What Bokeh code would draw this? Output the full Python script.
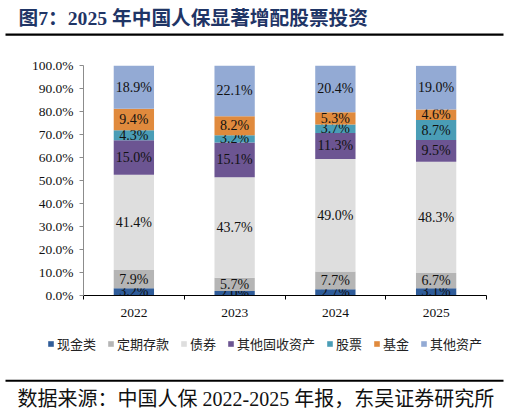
from bokeh.plotting import figure
from bokeh.models import (ColumnDataSource, FixedTicker, Legend, LegendItem, Range1d)
from bokeh.layouts import column
from bokeh.core.properties import value
from bokeh.embed import file_html
from bokeh.resources import INLINE

years = ["2022", "2023", "2024", "2025"]
series_names = ["现金类", "定期存款", "债券", "其他固收资产", "股票", "基金", "其他资产"]
cash = [3.2, 2.0, 2.7, 3.1]
deposits = [7.9, 5.7, 7.7, 6.7]
bonds = [41.4, 43.7, 49.0, 48.3]
other_fixed = [15.0, 15.1, 11.3, 9.5]
stocks = [4.3, 3.2, 3.7, 8.7]
funds = [9.4, 8.2, 5.3, 4.6]
other_assets = [18.9, 22.1, 20.4, 19.0]
y_ticks = [0, 10, 20, 30, 40, 50, 60, 70, 80, 90, 100]
title_text = "图7：2025 年中国人保显著增配股票投资"
source_text = "数据来源：中国人保 2022-2025 年报，东吴证券研究所"

series = [cash, deposits, bonds, other_fixed, stocks, funds, other_assets]
colors = ["#2F5C99", "#B5B5B5", "#DEDEDE", "#6C5592", "#4A9DB6", "#E08A3D", "#93AAD4"]

SERIF = "Liberation Serif, Noto Sans CJK SC"
W = 509
HH, MH, FH = 42, 278, 93
NAN = float("nan")


def blank(height):
    f = figure(width=W, height=height, output_backend="svg", toolbar_location=None,
               x_range=Range1d(0, W), y_range=Range1d(height, 0),
               x_axis_location=None, y_axis_location=None, frame_align=False,
               min_border=0, min_border_left=0, min_border_right=0,
               min_border_top=0, min_border_bottom=0)
    f.outline_line_color = None
    f.grid.grid_line_color = None
    f.border_fill_color = "white"
    f.background_fill_color = "white"
    return f


# ---------- header ----------
head = blank(HH)
head.text(x=[18], y=[17], text=[title_text], text_font=value(SERIF),
          text_font_size="19.7px", text_font_style="bold", text_color="#1F3566",
          text_baseline="middle", text_align="left")
head.quad(left=[5], right=[503], top=[33], bottom=[35.2], fill_color="black",
          line_color=None)

# ---------- main chart ----------
p = figure(width=W, height=MH, output_backend="svg", toolbar_location=None,
           x_range=Range1d(0, 4), y_range=Range1d(0, 100), frame_align=False,
           min_border_left=83, min_border_right=23, min_border_top=23,
           min_border_bottom=25)
p.outline_line_color = None
p.grid.grid_line_color = None
p.background_fill_color = "white"
p.border_fill_color = "white"

xs = [i + 0.5 for i in range(len(years))]
bottoms = [0.0] * len(years)
for name, vals, col in zip(series_names, series, colors):
    tops = [b + v for b, v in zip(bottoms, vals)]
    mids = [(b + t) / 2 for b, t in zip(bottoms, tops)]
    src = ColumnDataSource(dict(x=xs, bottom=bottoms, top=tops, mid=mids,
                                lab=[f"{v:.1f}%" for v in vals]))
    p.vbar(x="x", width=0.4, bottom="bottom", top="top", source=src,
           fill_color=col, line_color=None)
    p.text(x="x", y="mid", text="lab", source=src, text_align="center",
           text_baseline="middle", text_font=value("Liberation Serif"),
           text_font_size="14px", text_color="#111111")
    bottoms = tops

yax = p.yaxis[0]
yax.ticker = FixedTicker(ticks=y_ticks)
yax.major_label_overrides = {t: f"{t:.1f}%" for t in y_ticks}
yax.major_label_text_font = "Liberation Serif"
yax.major_label_text_font_size = "13.5px"
yax.major_label_text_color = "#111111"
yax.axis_line_color = "#8C8C8C"
yax.major_tick_line_color = "#8C8C8C"
yax.major_tick_out = 4
yax.major_tick_in = 0
yax.minor_tick_line_color = None
yax.major_label_standoff = 6

xax = p.xaxis[0]
xax.ticker = FixedTicker(ticks=xs, minor_ticks=list(range(len(years) + 1)))
xax.major_label_overrides = {x: y for x, y in zip(xs, years)}
xax.major_label_text_font = "Liberation Serif"
xax.major_label_text_font_size = "13.5px"
xax.major_label_text_color = "#111111"
xax.axis_line_color = "black"
xax.major_tick_line_color = None
xax.major_tick_out = 0
xax.major_tick_in = 0
xax.minor_tick_line_color = "black"
xax.minor_tick_out = 4
xax.minor_tick_in = 0
xax.major_label_standoff = 9

# ---------- footer: legend, rule, source ----------
foot = blank(FH)
items = []
for name, col in zip(series_names, colors):
    r = foot.vbar(x=[NAN], bottom=[NAN], top=[NAN], width=1,
                  fill_color=col, line_color=None)
    items.append(LegendItem(label=name, renderers=[r]))
legend = Legend(items=items, orientation="horizontal", location=(47, 60),
                glyph_width=7, glyph_height=7, label_standoff=3, spacing=11,
                padding=0, margin=0, label_height=14,
                label_text_font="Noto Sans CJK SC", label_text_font_size="13px",
                label_text_color="#222222", border_line_color=None,
                background_fill_alpha=0)
foot.add_layout(legend, "center")
foot.quad(left=[5], right=[503], top=[59.3], bottom=[61.2], fill_color="black",
          line_color=None)
foot.text(x=[17], y=[78], text=[source_text], text_font=value(SERIF),
          text_font_size="20px", text_color="#111111",
          text_baseline="middle", text_align="left")

layout = column(head, p, foot, spacing=0)
open("out.html", "w").write(file_html(layout, INLINE))
